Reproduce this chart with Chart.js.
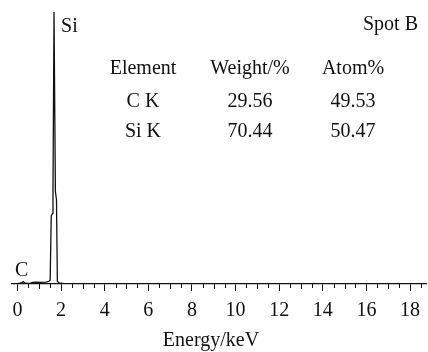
<!DOCTYPE html>
<html>
<head>
<meta charset="utf-8">
<script src="https://cdn.jsdelivr.net/npm/chart.js@4.4.1/dist/chart.umd.min.js"></script>
<style>
  html, body { margin: 0; padding: 0; background: #fff; }
  #wrap { position: relative; width: 428px; height: 352px; }
</style>
</head>
<body>
<div id="wrap"><canvas id="eds"></canvas></div>
<script>
// ==== DATA ====
// spectrum (keV / relative counts, peak = 100)
const energy = [-0.25, 0, 0.1, 0.2, 0.27, 0.33, 0.45, 0.6, 0.7, 0.9, 1.1, 1.3, 1.45, 1.5, 1.55, 1.61, 1.63, 1.676, 1.74, 1.79, 1.83, 1.9, 2.1, 3, 6, 10, 14, 18.75];
const counts = [0, 0.2, 0.3, 0.5, 0.9, 0.4, 0.2, 0.3, 0.6, 0.7, 0.6, 0.7, 1.0, 1.5, 25, 26, 34, 100, 34, 31, 1, 0.4, 0.2, 0, 0, 0, 0, 0];
const majorTicks = [0, 2, 4, 6, 8, 10, 12, 14, 16, 18];

// composition table
const tableHead = ['Element', 'Weight/%', 'Atom%'];
const elements = ['C K', 'Si K'];
const weightPct = ['29.56', '70.44'];
const atomPct = ['49.53', '50.47'];

const FONT = '"Liberation Serif", "Times New Roman", serif';
Chart.defaults.font.family = FONT;
Chart.defaults.color = '#111';

// annotations, minor ticks, axis title
const extras = {
  id: 'extras',
  afterDraw(chart) {
    const ctx = chart.ctx;
    const xs = chart.scales.x, ys = chart.scales.y;
    const base = chart.chartArea.bottom;
    ctx.save();
    // minor ticks every 0.5 keV, slightly longer at whole keV
    ctx.strokeStyle = '#111';
    ctx.lineWidth = 1;
    for (let v = 0.5; v < 18.75; v += 0.5) {
      if (v % 2 === 0) continue;
      const px = Math.round(xs.getPixelForValue(v)) + 0.5;
      const len = (v % 1 === 0) ? 5 : 4;
      ctx.beginPath();
      ctx.moveTo(px, base);
      ctx.lineTo(px, base + len);
      ctx.stroke();
    }
    ctx.fillStyle = '#111';
    ctx.font = '20px ' + FONT;
    ctx.textBaseline = 'alphabetic';
    // peak labels
    ctx.textAlign = 'left';
    ctx.fillText('Si', xs.getPixelForValue(1.676) + 7, ys.getPixelForValue(100) + 20);
    ctx.fillText('C', 15, 276);
    // spot name
    ctx.textAlign = 'right';
    ctx.fillText('Spot B', 418, 30);
    // table
    ctx.textAlign = 'center';
    const cols = [143, 250, 353];
    const rows = [74, 107, 137];
    tableHead.forEach((t, i) => ctx.fillText(t, cols[i], rows[0]));
    elements.forEach((e, r) => {
      ctx.fillText(e, cols[0], rows[r + 1]);
      ctx.fillText(weightPct[r], cols[1], rows[r + 1]);
      ctx.fillText(atomPct[r], cols[2], rows[r + 1]);
    });
    // axis title
    ctx.fillText('Energy/keV', 211, 346);
    ctx.restore();
  }
};

new Chart(document.getElementById('eds'), {
  type: 'line',
  data: {
    datasets: [{
      data: energy.map((e, i) => ({ x: e, y: counts[i] })),
      borderColor: '#111',
      borderWidth: 1.3,
      pointRadius: 0,
      tension: 0,
      fill: false
    }]
  },
  options: {
    responsive: true,
    maintainAspectRatio: false,
    animation: false,
    layout: { padding: { top: 12, left: 12, right: 0, bottom: 21 } },
    plugins: { legend: { display: false }, tooltip: { enabled: false } },
    scales: {
      x: {
        type: 'linear',
        min: -0.25,
        max: 18.75,
        afterBuildTicks: (s) => { s.ticks = majorTicks.map(v => ({ value: v })); },
        ticks: { font: { size: 20 }, color: '#111', padding: 8, maxRotation: 0, autoSkip: false },
        grid: { drawOnChartArea: false, tickLength: 7, color: '#111', lineWidth: 1 },
        border: { color: '#111', width: 1.3 }
      },
      y: { display: false, min: 0, max: 100 }
    }
  },
  plugins: [extras]
});
</script>
</body>
</html>
